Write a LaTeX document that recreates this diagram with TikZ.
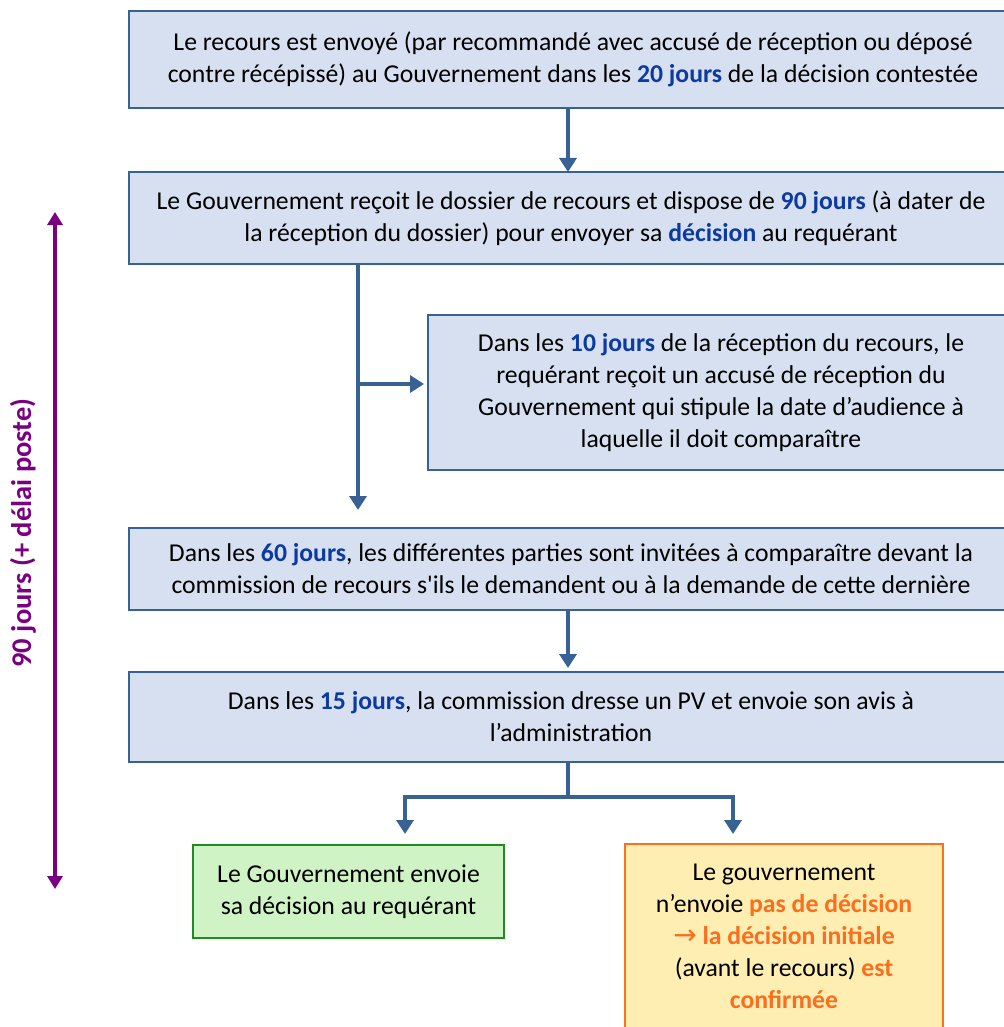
\documentclass[tikz,border=0pt]{standalone}
\usepackage{fontspec}
\setmainfont{Carlito}
\newfontfamily\symfont{DejaVu Sans}
\usetikzlibrary{arrows.meta}
\definecolor{boxline}{RGB}{56,98,148}
\definecolor{boxfill}{RGB}{214,224,240}
\definecolor{keyblue}{RGB}{12,58,160}
\definecolor{greenline}{RGB}{30,140,30}
\definecolor{greenfill}{RGB}{208,243,198}
\definecolor{orangeline}{RGB}{255,112,24}
\definecolor{orangefill}{RGB}{255,238,178}
\definecolor{keyorange}{RGB}{250,110,30}
\definecolor{purp}{RGB}{122,0,130}
\tikzset{
  txt/.style={font=\fontsize{25.7}{32}\selectfont, align=center, inner sep=0pt, outer sep=0pt},
  bluebox/.style={txt, draw=boxline, line width=2.6pt, fill=boxfill, anchor=north west},
  greenbox/.style={txt, draw=greenline, line width=2.6pt, fill=greenfill, anchor=north west},
  orangebox/.style={txt, draw=orangeline, line width=2.6pt, fill=orangefill, anchor=north west},
  flow/.style={draw=boxline, line width=4pt, -{Triangle[width=17pt,length=14pt]}},
  plain/.style={draw=boxline, line width=4pt},
}
\newcommand{\kb}[1]{\textcolor{keyblue}{\textbf{#1}}}
\newcommand{\ko}[1]{\textcolor{keyorange}{\textbf{#1}}}
\begin{document}
\begin{tikzpicture}[x=1pt,y=-1pt]
\useasboundingbox (0,0) rectangle (1003,1027);
\node[bluebox, minimum width=888pt, minimum height=97pt] (b1) at (129,11)
  {Le recours est envoyé (par recommandé avec accusé de réception ou déposé\\
   contre récépissé) au Gouvernement dans les \kb{20 jours} de la décision contestée};
\node[bluebox, minimum width=884pt, minimum height=92pt] (b2) at (129,172)
  {Le Gouvernement reçoit le dossier de recours et dispose de \kb{90 jours} (à dater de\\
   la réception du dossier) pour envoyer sa \kb{décision} au requérant};
\node[bluebox, minimum width=586pt, minimum height=155pt] (b3) at (428,315)
  {Dans les \kb{10 jours} de la réception du recours, le\\
   requérant reçoit un accusé de réception du\\
   Gouvernement qui stipule la date d’audience à\\
   laquelle il doit comparaître};
\node[bluebox, minimum width=884pt, minimum height=82pt] (b4) at (129,528)
  {Dans les \kb{60 jours}, les différentes parties sont invitées à comparaître devant la\\
   commission de recours s\textquotesingle ils le demandent ou à la demande de cette dernière};
\node[bluebox, minimum width=884pt, minimum height=90pt] (b5) at (129,672)
  {Dans les \kb{15 jours}, la commission dresse un PV et envoie son avis à\\
   l’administration};
\node[greenbox, minimum width=311pt, minimum height=93pt] (g) at (193,845)
  {Le Gouvernement envoie\\ sa décision au requérant};
\node[orangebox, minimum width=318pt, minimum height=200pt] (o) at (625,844)
  {};
\node[txt] (otext) at (784,936)
  {Le gouvernement\\
   n’envoie \ko{pas de décision}\\
   \ko{{\symfont\mdseries\fontsize{28}{32}\selectfont →} la décision initiale}\\
   (avant le recours) \ko{est}\\
   \ko{confirmée}};
% connectors
\coordinate (cx) at (568,0);
\coordinate (lx) at (358,0);
\coordinate (gx) at (405,0);
\coordinate (ox) at (733,0);
\coordinate (brY) at (0,384);
\coordinate (spY) at (0,797);
\draw[flow] (b1.south -| cx) -- (b2.north -| cx);
\draw[flow, shorten >=18pt] (b2.south -| lx) -- (b4.north -| lx);
\draw[flow, shorten >=4pt] (lx |- brY) -- (b3.west |- brY);
\draw[flow, shorten >=4pt] (b4.south -| cx) -- (b5.north -| cx);
\draw[plain] (b5.south -| cx) -- (cx |- spY);
\draw[flow, shorten >=11pt, line join=miter] (cx |- spY) -| (g.north -| gx);
\draw[flow, shorten >=10pt, line join=miter] (cx |- spY) -| (o.north -| ox);
% duration
\coordinate (dtop) at (55,212);
\coordinate (dbot) at (55,889);
\draw[purp, line width=3.6pt, {Triangle[width=15pt,length=13pt]}-{Triangle[width=15pt,length=13pt]}] (dtop) -- (dbot);
\node[purp, rotate=90, font=\fontsize{28.5}{32}\selectfont\bfseries, inner sep=0pt] (dlab) at (23,533) {90 jours (+ délai poste)};
\end{tikzpicture}
\end{document}
